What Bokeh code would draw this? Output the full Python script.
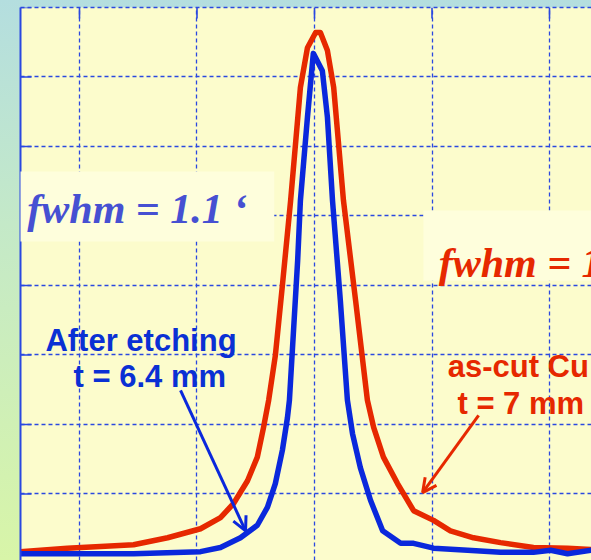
import math
from bokeh.plotting import figure
from bokeh.models import Range1d, FixedTicker, Label, BoxAnnotation, Arrow, OpenHead
from bokeh.embed import file_html
from bokeh.resources import INLINE

# ---- data (angle in arcmin, intensity in arbitrary units) ----
x_red = [-7.51, -6.31, -4.62, -3.75, -2.91, -2.40, -2.07, -1.71, -1.46, -1.30, -1.17, -1.00,
         -0.82, -0.61, -0.36, -0.18, 0.03, 0.15, 0.33, 0.49, 0.74, 1.05, 1.35, 1.51, 1.76,
         2.12, 2.53, 3.04, 3.47, 4.06, 4.75, 5.59, 6.46, 7.07]
y_red = [0.17, 0.22, 0.27, 0.37, 0.50, 0.66, 0.86, 1.19, 1.53, 1.96, 2.35, 2.99,
         4.00, 5.22, 6.85, 7.42, 7.64, 7.64, 7.38, 6.85, 5.22, 3.78, 2.35, 1.96, 1.53,
         1.15, 0.76, 0.62, 0.47, 0.37, 0.30, 0.23, 0.22, 0.20]

x_blue = [-7.51, -6.31, -4.62, -2.91, -2.40, -1.89, -1.46, -1.20, -1.00, -0.82, -0.69, -0.64,
          -0.43, -0.36, -0.18, -0.03, 0.20, 0.33, 0.46, 0.66, 0.84, 0.97, 1.17, 1.43, 1.74,
          2.20, 2.53, 3.04, 3.91, 4.75, 5.59, 6.03, 6.46, 7.07]
y_blue = [0.14, 0.14, 0.14, 0.17, 0.23, 0.37, 0.55, 0.81, 1.15, 1.63, 2.10, 2.35,
          4.36, 5.22, 6.42, 7.34, 7.09, 6.42, 5.22, 3.78, 2.35, 1.87, 1.38, 0.91, 0.47,
          0.29, 0.29, 0.22, 0.19, 0.16, 0.16, 0.19, 0.14, 0.19]

x_ticks = [-6, -3, 0, 3, 6]
y_ticks = [0, 1, 2, 3, 4, 5, 6, 7, 8]

fwhm_blue = "fwhm = 1.1 \u2018"
fwhm_red = "fwhm = 1.7 \u2018"
label_blue = ["After etching", "t = 6.4 mm"]
label_red = ["as-cut Cu", "t = 7 mm"]

BLUE = "#0a28dc"
RED = "#e62800"
GRID = "#2a48e0"
BOX = "#fefedc"

X0, X1, Y0, Y1 = -7.506, 7.072, 0.043, 8.0

p = figure(width=591, height=560, output_backend="svg", toolbar_location=None,
           x_range=Range1d(X0, X1), y_range=Range1d(Y0, Y1),
           x_axis_location="above", y_axis_location="left",
           min_border_left=20, min_border_top=7, min_border_right=0, min_border_bottom=0)
p.styles = {"background": "linear-gradient(to bottom, #b4dedf 0%, #c4e9c8 40%, #d8f5a8 100%)"}
p.border_fill_color = None
p.background_fill_color = "#fcfccc"
p.outline_line_color = None

# axes: lines only (no tick labels); inward ticks are drawn as short rays below
for ax in (p.xaxis[0], p.yaxis[0]):
    ax.ticker = FixedTicker(ticks=[])
    ax.major_tick_line_color = None
    ax.minor_tick_line_color = None
    ax.major_label_text_font_size = "10px"
    ax.axis_line_color = GRID
p.yaxis[0].axis_line_width = 2
p.xaxis[0].axis_line_width = 1.5
p.xaxis[0].axis_line_dash = "4 3"

p.xgrid.ticker = FixedTicker(ticks=x_ticks)
p.ygrid.ticker = FixedTicker(ticks=y_ticks)
for g in (p.xgrid[0], p.ygrid[0]):
    g.grid_line_color = GRID
    g.grid_line_width = 1.3
    g.grid_line_dash = "4 3"

# inward tick marks
p.ray(x=x_ticks, y=[Y1] * len(x_ticks), length=11, length_units="screen",
      angle=-math.pi / 2, line_color=GRID, line_width=1.6)
p.ray(x=[X0] * len(y_ticks), y=y_ticks, length=11, length_units="screen",
      angle=0, line_color=GRID, line_width=1.6)

p.line(x_red, y_red, line_color=RED, line_width=5.5, line_join="round")
p.line(x_blue, y_blue, line_color=BLUE, line_width=5.5, line_join="round")

# fwhm boxes / texts
p.add_layout(BoxAnnotation(left=2.78, right=7.4, bottom=4.07, top=5.08,
                           fill_color=BOX, fill_alpha=1, line_color=None))

p.add_layout(Label(x=-7.69, y=5.135, text=fwhm_blue, text_font="Liberation Serif",
                   text_font_style="bold italic", text_font_size="42px",
                   text_color="#4650d2", text_baseline="alphabetic",
                   background_fill_color=BOX,
                   padding=dict(left=14, right=27, top=14, bottom=10)))
p.add_layout(Label(x=3.17, y=4.33, text=fwhm_red, text_font="Liberation Serif",
                   text_font_style="bold italic", text_font_size="42px",
                   text_color=RED, text_baseline="alphabetic"))

for txt, x, y in zip(label_blue, [-6.87, -6.15], [3.21, 2.69]):
    p.add_layout(Label(x=x, y=y, text=txt, text_font="Liberation Sans", text_font_style="bold",
                       text_font_size="31px", text_color="#0a30d4", text_baseline="alphabetic"))
for txt, x, y in zip(label_red, [3.40, 3.65], [2.83, 2.30]):
    p.add_layout(Label(x=x, y=y, text=txt, text_font="Liberation Sans", text_font_style="bold",
                       text_font_size="31px", text_color=RED, text_baseline="alphabetic"))

p.add_layout(Arrow(end=OpenHead(size=14, line_color=BLUE, line_width=3),
                   x_start=-3.42, y_start=2.49, x_end=-1.76, y_end=0.47,
                   line_color=BLUE, line_width=3))
p.add_layout(Arrow(end=OpenHead(size=14, line_color=RED, line_width=3),
                   x_start=4.19, y_start=2.13, x_end=2.76, y_end=1.02,
                   line_color=RED, line_width=3))

open("out.html", "w").write(file_html(p, INLINE))
